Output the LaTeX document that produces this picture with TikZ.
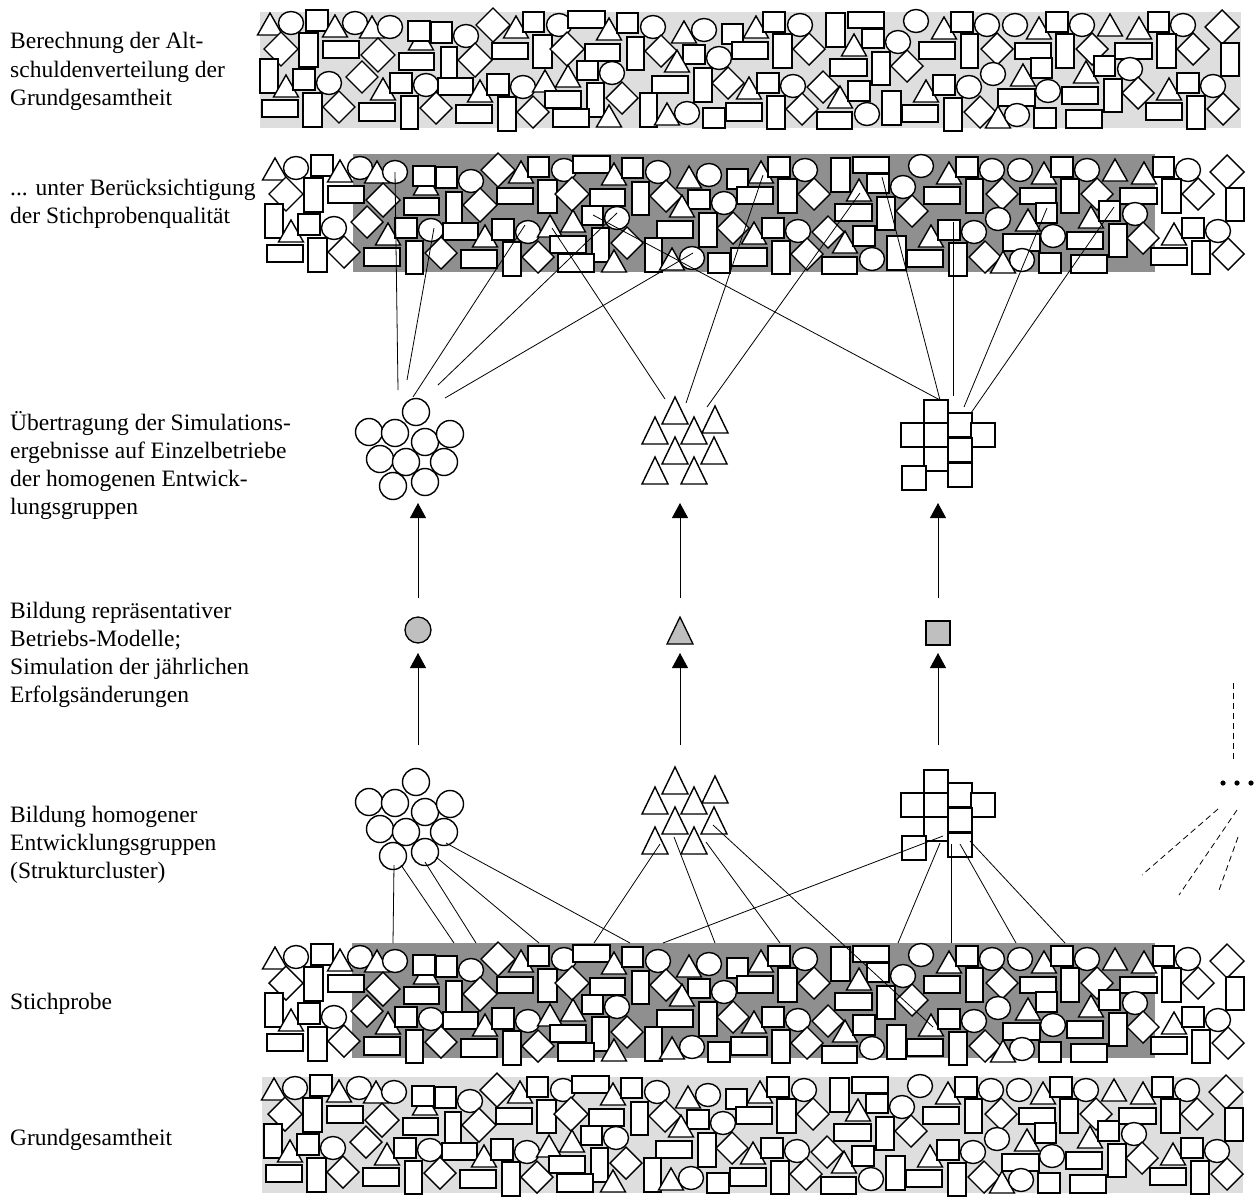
\documentclass[tikz,border=0pt]{standalone}
\usepackage{fontspec}
\setmainfont{Liberation Serif}
\usetikzlibrary{arrows.meta,shapes.geometric}
\definecolor{lightband}{gray}{0.87}
\definecolor{darkband}{gray}{0.56}
\definecolor{symfill}{gray}{0.75}
\tikzset{
  shp/.style={draw=black,fill=white,line width=1.4pt},
  cl/.style={draw=black,fill=white,line width=1.4pt},
  con/.style={draw=black,line width=0.8pt},
  arr/.style={draw=black,line width=0.9pt,-{Triangle[width=16pt,length=15pt]}},
  lbl/.style={anchor=base west,inner sep=0pt,font=\fontsize{23.5}{28}\selectfont},
  dsh/.style={draw=black,line width=0.8pt,dash pattern=on 6pt off 4pt},
}
\newcommand\shC[2]{\draw[shp] (#1,#2) ellipse[x radius=12.5pt,y radius=11.5pt];}
\newcommand\shT[2]{\draw[shp] ({#1-12.5},#2) -- ({#1+12.5},#2) -- (#1,{#2-22}) -- cycle;}
\newcommand\shR[4]{\draw[shp] (#1,#2) rectangle (#3,#4);}
\newcommand\shD[3]{\draw[shp] ({#1-#3},#2) -- (#1,{#2-#3}) -- ({#1+#3},#2) -- (#1,{#2+#3}) -- cycle;}
\newcommand\tilepattern{%
% row 1
\shT{270}{35}\shC{291}{23}\shR{306}{10}{328}{31}\shT{335}{37}\shC{355}{23}\shT{372}{38}\shC{390}{27}
\shT{421}{50}\shR{408}{21}{430}{41}\shR{431}{22}{452}{43}\shC{466}{36}\shD{493}{25}{17}\shT{516}{38}
\shR{523}{12}{544}{32}\shC{559}{25}\shR{568}{11}{605}{28}\shT{609}{40}\shR{617}{13}{638}{33}\shC{653}{27}
\shT{684}{43}\shC{704}{30}\shR{722}{24}{743}{44}\shT{756}{38}\shR{763}{12}{785}{32}\shC{800}{25}
\shR{826}{13}{845}{47}\shR{848}{12}{884}{28}\shR{862}{29}{884}{48}\shT{854}{56}\shC{898}{42}\shC{916}{21}
\shT{944}{39}\shR{951}{12}{973}{32}\shC{987}{25}\shC{1015}{25}\shT{1039}{39}\shR{1046}{12}{1068}{32}
\shC{1082}{25}\shT{1110}{36}\shT{1139}{39}\shR{1148}{12}{1169}{32}\shC{1183}{25}\shD{1222}{27}{17}
% row 2
\shD{281}{49}{17}\shR{299}{33}{318}{67}\shR{323}{41}{359}{58}\shD{378}{55}{17}\shR{399}{53}{434}{70}
\shR{441}{47}{457}{78}\shD{475}{60}{17}\shR{492}{43}{528}{59}\shR{533}{35}{552}{68}\shD{567}{49}{17}
\shR{585}{44}{620}{61}\shR{627}{37}{644}{70}\shR{577}{61}{598}{80}\shC{612}{73}\shD{661}{51}{16}
\shR{683}{45}{705}{64}\shT{677}{72}\shC{719}{58}\shR{732}{42}{768}{59}\shR{773}{34}{792}{68}
\shD{809}{49}{16}\shR{830}{59}{867}{76}\shR{872}{52}{890}{85}\shD{907}{66}{16}\shR{919}{42}{955}{59}
\shR{961}{34}{978}{68}\shD{997}{49}{16}\shR{1015}{43}{1051}{59}\shC{993}{74}\shT{1023}{86}
\shR{1031}{58}{1052}{78}\shR{1056}{34}{1074}{68}\shD{1092}{49}{16}\shR{1115}{43}{1152}{59}
\shR{1157}{34}{1176}{68}\shD{1193}{49}{16}\shR{1221}{43}{1239}{76}\shT{1086}{83}\shR{1094}{56}{1115}{76}\shC{1130}{69}
% row 3
\shR{260}{59}{278}{93}\shT{286}{97}\shR{293}{69}{315}{90}\shC{329}{83}\shD{362}{77}{16}\shT{383}{100}
\shR{390}{73}{412}{93}\shC{426}{85}\shR{438}{78}{473}{95}\shT{480}{102}\shR{487}{74}{509}{95}\shC{523}{87}
\shT{545}{92}\shT{568}{87}\shR{545}{91}{581}{108}\shR{587}{83}{604}{117}\shD{622}{98}{16}
\shR{652}{76}{688}{93}\shR{694}{68}{712}{102}\shD{728}{83}{16}\shT{749}{99}\shR{757}{73}{779}{93}
\shC{793}{86}\shD{823}{87}{16}\shT{840}{108}\shR{848}{81}{870}{101}\shR{882}{91}{901}{125}
\shT{926}{102}\shR{933}{75}{955}{95}\shC{969}{87}\shR{998}{89}{1035}{106}\shC{1048}{91}
\shR{1062}{87}{1098}{104}\shR{1104}{79}{1122}{112}\shD{1138}{93}{16}\shT{1169}{100}
\shR{1177}{73}{1199}{93}\shC{1213}{86}
% row 4
\shR{262}{100}{298}{117}\shR{303}{93}{322}{127}\shD{339}{107}{16}\shR{359}{103}{395}{121}
\shR{401}{96}{418}{129}\shD{436}{108}{16}\shR{456}{105}{492}{123}\shR{498}{97}{516}{131}
\shD{533}{112}{16}\shR{553}{109}{589}{127}\shT{609}{127}\shR{640}{93}{657}{127}\shT{667}{125}
\shC{687}{113}\shR{703}{108}{725}{128}\shR{726}{103}{762}{121}\shR{767}{96}{785}{129}
\shD{802}{109}{16}\shR{817}{112}{852}{129}\shC{867}{114}\shR{902}{105}{938}{122}
\shR{944}{98}{962}{131}\shD{980}{112}{16}\shT{998}{128}\shC{1017}{115}\shR{1034}{108}{1056}{128}
\shR{1066}{110}{1102}{128}\shR{1146}{103}{1182}{120}\shR{1187}{96}{1205}{129}\shD{1223}{109}{16}
}
\newcommand\clT[2]{\draw[cl] ({#1-13},{#2+27}) -- ({#1+13},{#2+27}) -- (#1,#2) -- cycle;}
\newcommand\clS[2]{\draw[cl] (#1,#2) rectangle ({#1+24},{#2+24});}
\newcommand\clusters{%
\foreach \cx/\cy in {416/412,369/432,395/433,425/442,450/434,380/459,406/462,444/462,393/486,425/482}
  {\draw[cl] (\cx,\cy) circle[radius=13.5pt];}
\clT{675}{397}\clT{715}{406}\clT{655}{417}\clT{694}{417}\clT{675}{437}\clT{714}{437}\clT{655}{457}\clT{694}{457}
\clS{924}{400}\clS{948}{413}\clS{901}{423}\clS{924}{423}\clS{971}{423}\clS{948}{438}\clS{924}{447}\clS{948}{463}\clS{902}{466}
}
\begin{document}
\begin{tikzpicture}[x=1pt,y=-1pt]
\useasboundingbox (0,0) rectangle (1255,1200);
% labels
\node[lbl] (t1a) at (10,48) {Berechnung der Alt-};
\node[lbl] (t1b) at (10,77) {schuldenverteilung der};
\node[lbl] (t1c) at (10,105) {Grundgesamtheit};
\node[lbl] (t2a) at (10,195) {... unter Berücksichtigung};
\node[lbl] (t2b) at (10,223) {der Stichprobenqualität};
\node[lbl] (t3a) at (10,430) {Übertragung der Simulations-};
\node[lbl] (t3b) at (10,458) {ergebnisse auf Einzelbetriebe};
\node[lbl] (t3c) at (10,486) {der homogenen Entwick-};
\node[lbl] (t3d) at (10,514) {lungsgruppen};
\node[lbl] (t4a) at (10,618) {Bildung repräsentativer};
\node[lbl] (t4b) at (10,646) {Betriebs-Modelle;};
\node[lbl] (t4c) at (10,674) {Simulation der jährlichen};
\node[lbl] (t4d) at (10,702) {Erfolgsänderungen};
\node[lbl] (t5a) at (10,822) {Bildung homogener};
\node[lbl] (t5b) at (10,850) {Entwicklungsgruppen};
\node[lbl] (t5c) at (10,878) {(Strukturcluster)};
\node[lbl] (t6) at (10,1009) {Stichprobe};
\node[lbl] (t7) at (10,1145) {Grundgesamtheit};
% bands
\fill[lightband] (260,12) rectangle (1241,128);
\tilepattern
\begin{scope}[shift={(5,145)}]
\fill[darkband] (348,9) rectangle (1150,127);
\tilepattern
\end{scope}
\begin{scope}[shift={(5,934)}]
\fill[darkband] (347,9) rectangle (1150,124);
\tilepattern
\end{scope}
\begin{scope}[shift={(4,1065)}]
\fill[lightband] (258,12) rectangle (1239,128);
\tilepattern
\end{scope}
% clusters
\clusters
\begin{scope}[shift={(0,370)}]\clusters\end{scope}
% representative models
\node[draw,line width=1.3pt,fill=symfill,ellipse,minimum width=26pt,minimum height=26pt,inner sep=0pt] (m1) at (418,630) {};
\draw[line width=1.3pt,fill=symfill] (667,644) -- (693,644) -- (680,617) -- cycle;
\coordinate (m2) at (680,630);
\node[draw,line width=1.3pt,fill=symfill,minimum size=24pt,inner sep=0pt] (m3) at (938,633) {};
% arrows
\foreach \i/\x in {1/418,2/680,3/938}{
  \coordinate (lo\i) at (\x,745); \coordinate (mt\i) at (\x,653);
  \coordinate (mb\i) at (\x,598); \coordinate (up\i) at (\x,503);
  \draw[arr] (lo\i) -- (mt\i);
  \draw[arr] (mb\i) -- (up\i);
}
% upper connectors (band B to upper clusters)
\foreach \i/\ax/\ay/\bx/\by in {1/395/172/398/390, 2/434/228/407/380, 3/525/225/413/397, 4/617/213/438/385,
  5/693/253/445/398, 6/552/228/665/399, 7/593/215/940/400, 8/763/175/686/403, 9/860/193/707/407,
  10/882/177/940/400, 11/953/222/953/396, 12/1047/208/964/407, 13/1114/207/971/413}{
  \coordinate (ub\i) at (\ax,\ay); \coordinate (uc\i) at (\bx,\by);
  \draw[con] (ub\i) -- (uc\i);
}
% lower connectors (lower clusters to band C)
\foreach \i/\ax/\ay/\bx/\by in {1/394/865/393/943, 2/401/865/454/943, 3/425/862/476/943, 4/436/857/539/943,
  5/446/843/630/943, 6/660/844/594/943, 7/674/837/715/943, 8/706/842/780/943, 9/713/825/933/1027,
  10/943/836/663/943, 11/940/843/898/943, 12/951/844/951/943, 13/960/844/1016/943, 14/970/841/1065/943}{
  \coordinate (lc\i) at (\ax,\ay); \coordinate (lb\i) at (\bx,\by);
  \draw[con] (lc\i) -- (lb\i);
}
% further groups
\coordinate (d0a) at (1233,683); \coordinate (d0b) at (1233,760);
\draw[dsh] (d0a) -- (d0b);
\foreach \x [count=\k] in {1223,1237,1251}{\fill (\x,783) coordinate (dot\k) circle[radius=2.6pt];}
\coordinate (d1a) at (1218,809); \coordinate (d1b) at (1142,875);
\coordinate (d2a) at (1237,810); \coordinate (d2b) at (1179,895);
\coordinate (d3a) at (1238,837); \coordinate (d3b) at (1218,893);
\draw[dsh] (d1a) -- (d1b); \draw[dsh] (d2a) -- (d2b); \draw[dsh] (d3a) -- (d3b);
\end{tikzpicture}
\end{document}
